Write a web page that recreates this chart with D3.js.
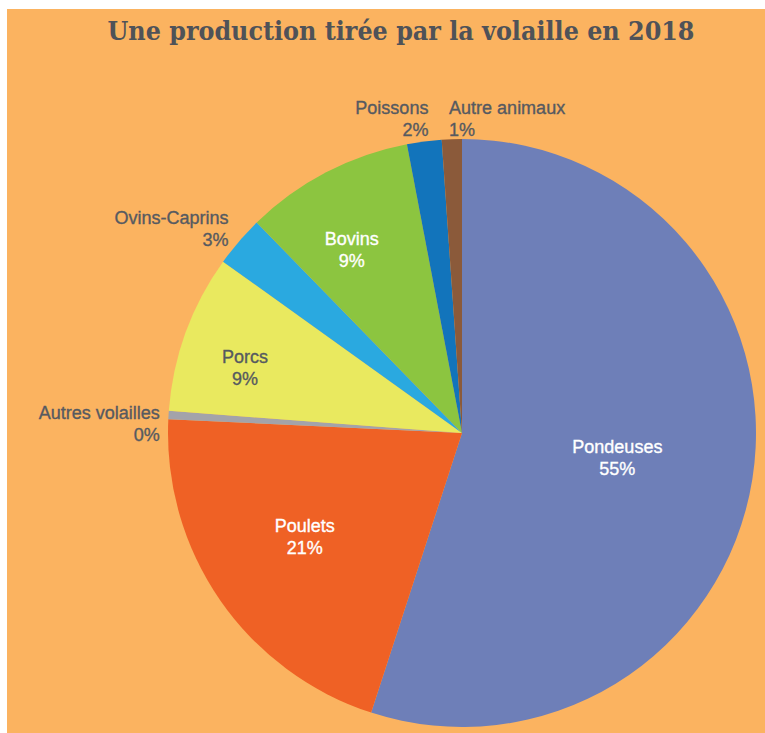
<!DOCTYPE html>
<html>
<head>
  <meta charset="utf-8">
  <script src="https://d3js.org/d3.v7.min.js"></script>
  <style>
    body { margin: 0; background: #fff; }
    .lbl { font-family: "Liberation Sans", Arial, sans-serif; font-size: 18px; stroke-width: 0.35px; }
  </style>
</head>
<body>
  <div id="chart"></div>
  <script>
    // data (share of production, %)
    var categories = ["Pondeuses", "Poulets", "Autres volailles", "Porcs", "Ovins-Caprins", "Bovins", "Poissons", "Autre animaux"];
    var values = [55.0, 20.75, 0.45, 8.7, 2.8, 9.3, 1.9, 1.1];
    var colors = ["#6e7fb8", "#ef6125", "#a3a3aa", "#e9e95f", "#2aa9e0", "#8cc540", "#1274bb", "#8b5a3a"];
    var title = "Une production tirée par la volaille en 2018";

    // label placement: radius fraction, anchor, nudge, text colour
    var labelSpots = [
      {f: 0.535, anchor: "middle", dx: 0, dy: -2, fill: "#fff"},
      {f: 0.65, anchor: "middle", dx: 0, dy: -7, fill: "#fff"},
      {f: 1.03, anchor: "end", dx: 0, dy: 8, fill: "#565a60"},
      {f: 0.785, anchor: "middle", dx: 0, dy: 12, fill: "#565a60"},
      {f: 1.02, anchor: "end", dx: -6, dy: -11, fill: "#565a60"},
      {f: 0.70, anchor: "middle", dx: -15, dy: -3, fill: "#fff"},
      {f: 1.075, anchor: "end", dx: 7, dy: -3, fill: "#565a60"},
      {f: 1.075, anchor: "start", dx: -2, dy: 0, fill: "#565a60"}
    ];

    var width = 765, height = 733;
    var cx = 462, cy = 433, radius = 294;

    var svg = d3.select("#chart").append("svg")
      .attr("width", width)
      .attr("height", height);

    svg.append("rect")
      .attr("x", 7).attr("y", 9)
      .attr("width", width - 7).attr("height", height - 9)
      .attr("fill", "#fbb360");

    svg.append("text")
      .attr("x", 401).attr("y", 40)
      .attr("text-anchor", "middle")
      .attr("font-family", "DejaVu Serif, serif")
      .attr("font-weight", "bold")
      .attr("font-size", 26)
      .attr("fill", "#4f5258")
      .attr("textLength", 587)
      .attr("lengthAdjust", "spacingAndGlyphs")
      .text(title);

    var pie = d3.pie().sort(null).value(function (d) {return d;});
    var arcs = pie(values);
    var arc = d3.arc().innerRadius(0).outerRadius(radius);

    var g = svg.append("g").attr("transform", "translate(" + cx + "," + cy + ")");

    g.selectAll("path")
      .data(arcs)
      .enter().append("path")
      .attr("d", arc)
      .attr("fill", function (d, i) {return colors[i];});

    var labels = g.selectAll(".lbl")
      .data(arcs)
      .enter().append("text")
      .attr("class", "lbl")
      .attr("text-anchor", function (d, i) {return labelSpots[i].anchor;})
      .attr("fill", function (d, i) {return labelSpots[i].fill;})
      .attr("stroke", function (d, i) {return labelSpots[i].fill;})
      .attr("transform", function (d, i) {
        var s = labelSpots[i];
        var a = (d.startAngle + d.endAngle) / 2;
        var r = s.f * radius;
        var x = Math.sin(a) * r + s.dx;
        var y = -Math.cos(a) * r + s.dy;
        return "translate(" + x + "," + y + ")";
      });

    labels.append("tspan")
      .attr("x", 0).attr("y", -3)
      .text(function (d, i) {return categories[i];});
    labels.append("tspan")
      .attr("x", 0).attr("y", 19)
      .text(function (d) {return Math.round(d.value) + "%";});
  </script>
</body>
</html>
